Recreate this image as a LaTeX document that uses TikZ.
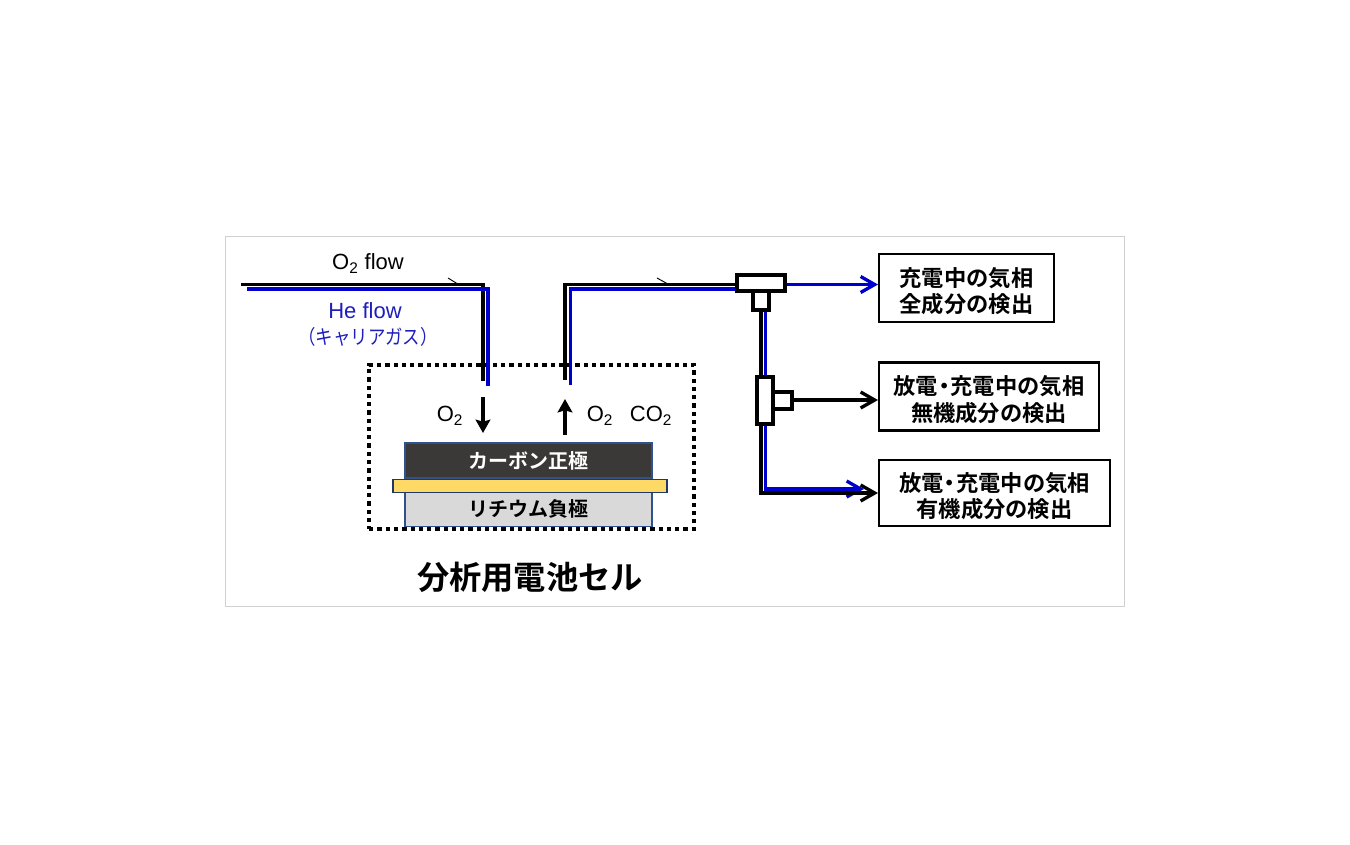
\documentclass[tikz,border=0pt]{standalone}
\usepackage{fontspec}
\setmainfont{Liberation Sans}
\newfontfamily\jpf[BoldFont={Noto Sans CJK JP Bold}]{Noto Sans CJK JP}
\usetikzlibrary{arrows.meta}
\definecolor{flowblue}{RGB}{0,0,205}
\definecolor{labelblue}{RGB}{30,30,190}
\definecolor{cathode}{RGB}{59,56,56}
\definecolor{edgeblue}{RGB}{47,82,143}
\definecolor{edgedark}{RGB}{32,56,100}
\definecolor{foil}{RGB}{255,217,102}
\definecolor{anode}{RGB}{217,217,217}
\definecolor{frame}{RGB}{208,208,208}
\tikzset{
  x=0.75pt,y=-0.75pt,
  pipe/.style={line width=2.45pt,line cap=butt,line join=miter},
  blackpipe/.style={pipe,draw=black},
  bluepipe/.style={pipe,draw=flowblue},
  barbhead/.style={-{Straight Barb[length=10.5pt,width=12pt,line width=2.5pt]}},
  flowtick/.style={draw=black,line width=0.7pt},
  gasarrow/.style={draw=black,line width=2.3pt,-{Stealth[length=10pt,width=11pt,inset=1.5pt]}},
  fitting/.style={draw=black,fill=white,line width=2.6pt,inner sep=0pt,outer sep=0pt},
  resultbox/.style={draw=black,fill=white,line width=1.6pt,inner sep=0pt,outer sep=0pt,align=center,
    font=\jpf\fontsize{16.7pt}{19.6pt}\selectfont\bfseries},
  layer/.style={line width=1.4pt,inner sep=0pt,outer sep=0pt,minimum width=185.25pt,
    font=\jpf\fontsize{15pt}{18pt}\selectfont\bfseries},
  gaslabel/.style={inner sep=0pt,font=\fontsize{16.5pt}{18pt}\selectfont},
}
\newcommand{\dotsep}{\kern-0.22em・\kern-0.22em}
\newcommand{\toprule}{\rule{0pt}{19pt}}
\begin{document}
\begin{tikzpicture}
\useasboundingbox (0,0) rectangle (1350,844);
\fill[white] (0,0) rectangle (1350,844);
\node[draw=frame,line width=0.75pt,inner sep=0pt,minimum width=674.25pt,minimum height=277.5pt] (frame) at (674.5,421) {};

% battery cell enclosure
\node[draw=black,line width=3pt,dash pattern=on 3.2pt off 3pt,inner sep=0pt,minimum width=243.5pt,minimum height=123.5pt] (cell) at (531.5,447) {};

% layers
\node[layer,draw=edgeblue,fill=cathode,text=white,minimum height=26.25pt] (cathodeL) at (528.5,460.5) {\raisebox{-1.2pt}{カーボン正極}};
\node[layer,draw=edgeblue,fill=anode,text=black,minimum height=26.25pt] (anodeL) at (528.5,509) {\raisebox{-1pt}{リチウム負極}};
\node[draw=edgedark,fill=foil,line width=1.1pt,inner sep=0pt,minimum width=205.5pt,minimum height=9.5pt] (foilL) at (530,486) {};

% waypoints
\coordinate (inBlackStart) at (241,284.5);
\coordinate (inBlackCorner) at (483,284.5);
\coordinate (inBlackEnd) at (483,381);
\coordinate (inBlueStart) at (247,289);
\coordinate (inBlueCorner) at (488,289);
\coordinate (inBlueEnd) at (488,386);
\coordinate (outBlackEnd) at (565,380);
\coordinate (outBlackCorner) at (565,284.5);
\coordinate (outBlueEnd) at (570.5,385);
\coordinate (outBlueCorner) at (570.5,289);
\coordinate (teeBlackIn) at (737,284.5);
\coordinate (teeBlueIn) at (737,289);

% pipes
\draw[blackpipe] (inBlackStart) -- (inBlackCorner) -- (inBlackEnd);
\draw[bluepipe] (inBlueStart) -- (inBlueCorner) -- (inBlueEnd);
\draw[blackpipe] (outBlackEnd) -- (outBlackCorner) -- (teeBlackIn);
\draw[bluepipe] (outBlueEnd) -- (outBlueCorner) -- (teeBlueIn);

% tick marks on the lines
\coordinate (tickA) at (448,278); \coordinate (tickB) at (457,283.5);
\coordinate (tickC) at (657,278); \coordinate (tickD) at (667,283.5);
\draw[flowtick] (tickA) -- (tickB);
\draw[flowtick] (tickC) -- (tickD);

% result boxes
\node[resultbox,minimum width=131.25pt,minimum height=51pt] (r1) at (966.5,288) {\toprule 充電中の気相\\全成分の検出};
\node[resultbox,minimum width=165pt,minimum height=51pt] (r2) at (989,396.5) {\toprule 放電\dotsep 充電中の気相\\無機成分の検出};
\node[resultbox,minimum width=173.25pt,minimum height=49pt] (r3) at (994.5,493) {\toprule 放電\dotsep 充電中の気相\\有機成分の検出};

% branches
\coordinate (vBlackTop) at (761,305);
\coordinate (vBlackBottom) at (761,493);
\coordinate (vBlueTop) at (765.5,305);
\coordinate (vBlueBottom) at (765.5,489);
\coordinate (r3Black) at (878,493);
\coordinate (r3Blue) at (864,489);
\coordinate (r1In) at (878,284.5);
\coordinate (r2In) at (878,400);
\coordinate (teeOut) at (783,284.5);
\coordinate (tee2Out) at (790,400);
\draw[bluepipe,barbhead] (vBlueTop) -- (vBlueBottom) -- (r3Blue);
\draw[blackpipe,barbhead] (vBlackTop) -- (vBlackBottom) -- (r3Black);
\draw[bluepipe,barbhead] (teeOut) -- (r1In);
\draw[blackpipe,barbhead] (tee2Out) -- (r2In);

% fittings
\node[fitting,minimum width=12pt,minimum height=14.25pt] (tee1stem) at (761,300.5) {};
\node[fitting,minimum width=36pt,minimum height=12pt] (tee1) at (761,283) {};
\node[fitting,minimum width=14.25pt,minimum height=12.75pt] (tee2stem) at (782.5,400.5) {};
\node[fitting,minimum width=12pt,minimum height=35.25pt] (tee2) at (765,400.5) {};

% gas arrows
\coordinate (downA) at (483,397); \coordinate (downB) at (483,433);
\coordinate (upA) at (565,435); \coordinate (upB) at (565,399);
\draw[gasarrow] (downA) -- (downB);
\draw[gasarrow] (upA) -- (upB);

% labels
\node[gaslabel] (lo2flow) at (368,263.5) {O\textsubscript{2} flow};
\node[gaslabel,text=labelblue] (lhe) at (365,310.5) {He flow};
\node[gaslabel,text=labelblue,font=\jpf\fontsize{15pt}{18pt}\selectfont] (lcarrier) at (368,337) {\scalebox{0.87}[1]{（キャリアガス）}};
\node[gaslabel] (lo2a) at (450,416) {O\textsubscript{2}};
\node[gaslabel] (lo2b) at (600,416) {O\textsubscript{2}};
\node[gaslabel] (lco2) at (651,416) {CO\textsubscript{2}};
\node[font=\jpf\fontsize{24.2pt}{28pt}\selectfont\bfseries,inner sep=0pt] (title) at (530,577) {分析用電池セル};
\end{tikzpicture}
\end{document}
